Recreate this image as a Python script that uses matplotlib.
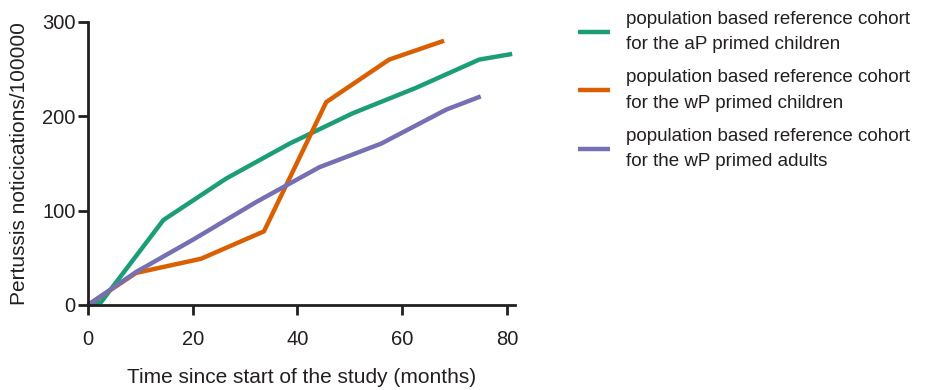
import matplotlib.pyplot as plt

plt.rcParams['font.family'] = ['Liberation Sans', 'DejaVu Sans']

# months since start, cumulative notifications per 100000
ap_children_x = [0, 2.5, 14.4, 26.4, 38.5, 50.5, 62.6, 74.7, 81]
ap_children_y = [0, 3, 90, 134, 171, 203, 230, 260, 266]

wp_children_x = [0, 9.2, 21.6, 33.6, 45.5, 57.5, 68]
wp_children_y = [0, 34, 49, 78, 215, 260, 280]

wp_adults_x = [0, 9.2, 20, 32.1, 44.2, 56, 68.4, 75]
wp_adults_y = [0, 35, 69, 109, 146, 171, 207, 221]

labels = [
    "population based reference cohort\nfor the aP primed children",
    "population based reference cohort\nfor the wP primed children",
    "population based reference cohort\nfor the wP primed adults",
]
colors = ["#1b9e77", "#d95f02", "#7570b3"]
ink = "#231f20"

fig = plt.figure(figsize=(9.36, 3.9), dpi=100)
ax = fig.add_axes([0.094, 0.218, 0.456, 0.726])

series = [(ap_children_x, ap_children_y), (wp_children_x, wp_children_y), (wp_adults_x, wp_adults_y)]
for (x, y), c, lab in zip(series, colors, labels):
    ax.plot(x, y, color=c, lw=3.2, label=lab, clip_on=False, solid_capstyle="butt")

ax.set_xlim(0, 81.5)
ax.set_ylim(0, 300)
ax.set_xticks([0, 20, 40, 60, 80])
ax.set_yticks([0, 100, 200, 300])
for s in ["top", "right"]:
    ax.spines[s].set_visible(False)
for s in ["left", "bottom"]:
    ax.spines[s].set_linewidth(2)
    ax.spines[s].set_color(ink)
ax.tick_params(width=2, length=7, labelsize=14.5, colors=ink)
ax.tick_params(axis="y", pad=2)
ax.tick_params(axis="x", pad=11)

ax.set_xlabel("Time since start of the study (months)", fontsize=15, labelpad=14, color=ink)
ax.set_ylabel("Pertussis noticications/100000", fontsize=15, labelpad=9, color=ink)

leg = fig.legend(loc="upper left", bbox_to_anchor=(0.6175, 0.972), frameon=False, fontsize=13.5,
                 handlelength=1.7, handletextpad=0.85, labelspacing=0.85, borderpad=0,
                 borderaxespad=0, labelcolor=ink)
for t in leg.get_texts():
    t.set_linespacing(1.65)

fig.savefig("out.png", dpi=100)
